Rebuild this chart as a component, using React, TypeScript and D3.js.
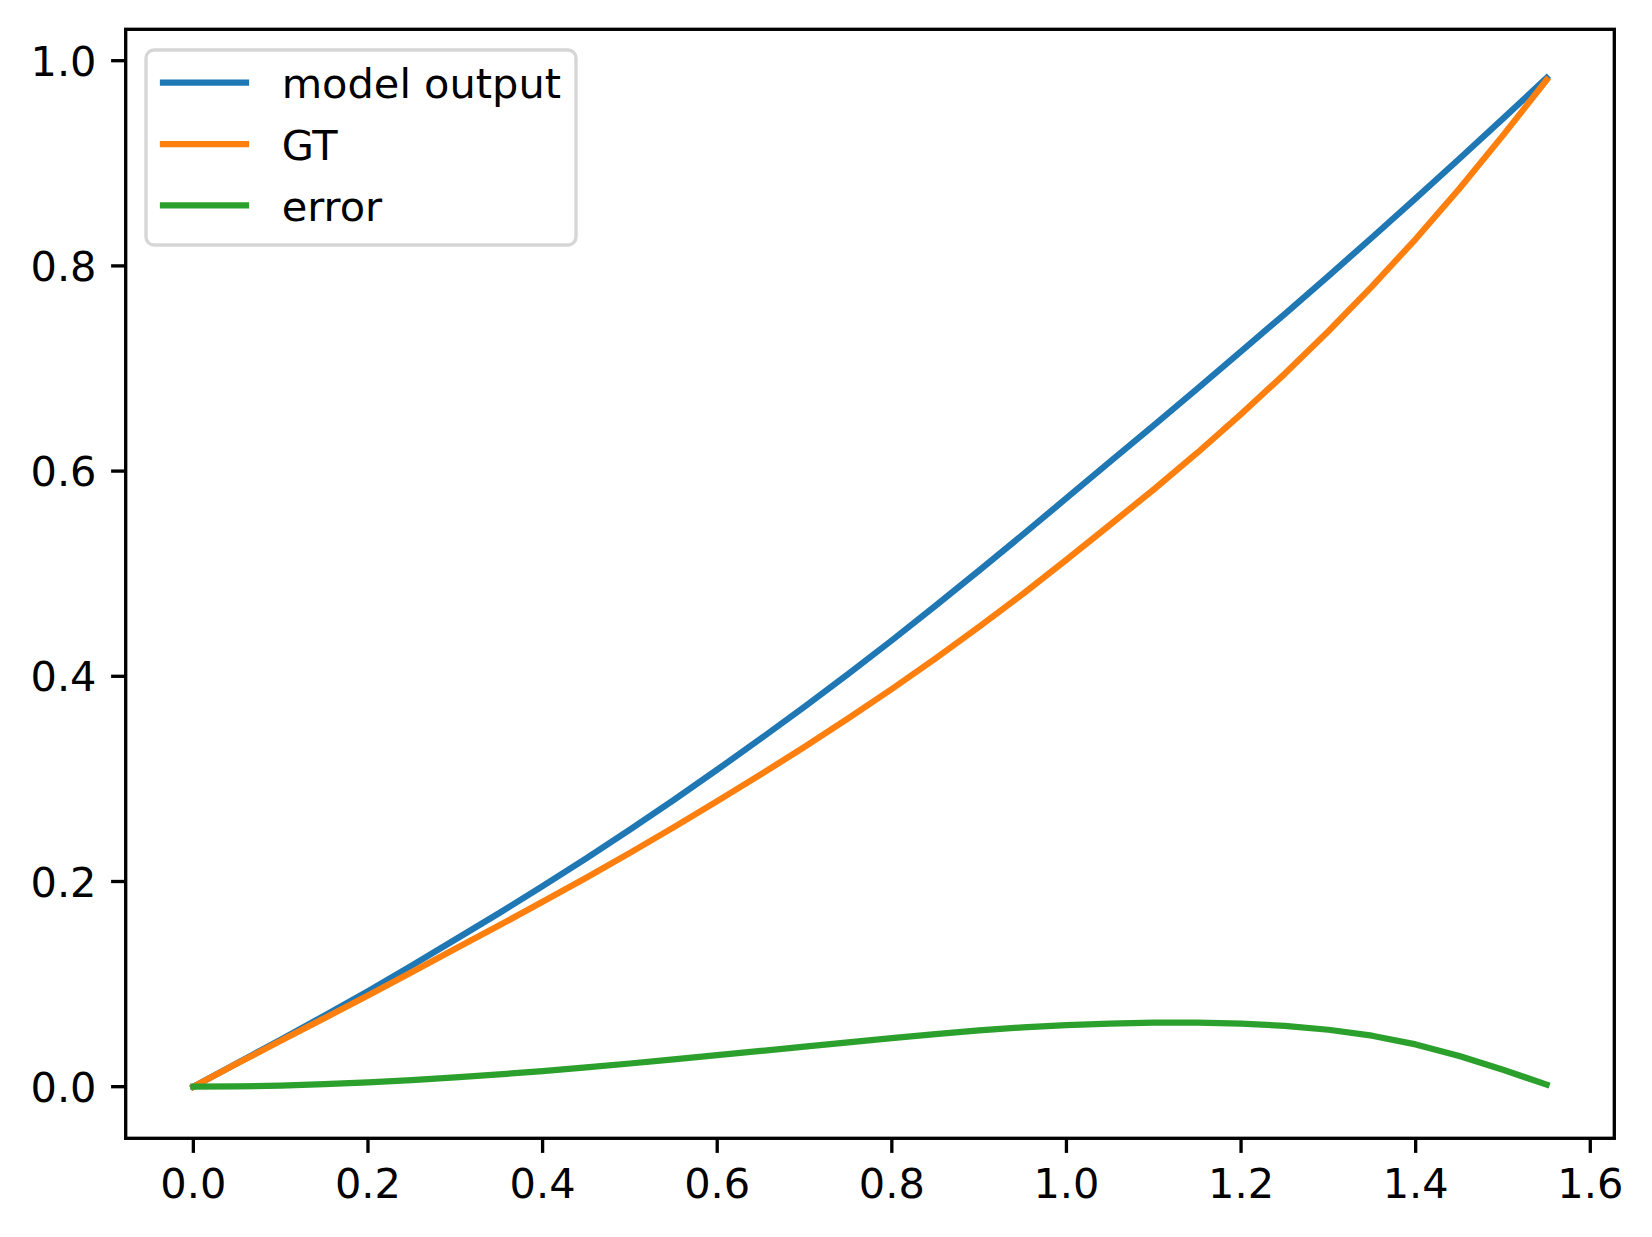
import React from "react";
import * as d3 from "d3";

const xValues = [0, 0.05, 0.1, 0.15, 0.2, 0.25, 0.3, 0.35, 0.4, 0.45, 0.5, 0.55, 0.6, 0.65, 0.7, 0.75, 0.8, 0.85, 0.9, 0.95, 1.0, 1.05, 1.1, 1.15, 1.2, 1.25, 1.3, 1.35, 1.4, 1.45, 1.5, 1.55];
const modelOutput = [0, 0.0228, 0.0458, 0.0692, 0.093, 0.118, 0.1435, 0.169, 0.1955, 0.2225, 0.2505, 0.2793, 0.309, 0.3393, 0.3703, 0.4022, 0.435, 0.4687, 0.5031, 0.538, 0.5736, 0.6092, 0.6446, 0.6803, 0.7166, 0.7531, 0.7901, 0.8277, 0.8658, 0.9044, 0.9435, 0.9832];
const groundTruth = [0, 0.0225, 0.0447, 0.0668, 0.0888, 0.1116, 0.1345, 0.157, 0.1803, 0.2037, 0.2279, 0.2527, 0.2783, 0.3044, 0.3312, 0.3589, 0.3876, 0.4174, 0.4483, 0.4802, 0.5136, 0.5477, 0.5821, 0.6179, 0.6555, 0.6948, 0.7363, 0.78, 0.8262, 0.8752, 0.9272, 0.9812];
const errorValues = [0, 0.0003, 0.0011, 0.0024, 0.0042, 0.0064, 0.009, 0.012, 0.0152, 0.0188, 0.0226, 0.0266, 0.0307, 0.0349, 0.0391, 0.0433, 0.0474, 0.0513, 0.0548, 0.0578, 0.06, 0.0615, 0.0625, 0.0624, 0.0615, 0.0593, 0.0555, 0.0497, 0.0412, 0.03, 0.0165, 0.002];
const xTicks = [0, 0.2, 0.4, 0.6, 0.8, 1.0, 1.2, 1.4, 1.6];
const yTicks = [0, 0.2, 0.4, 0.6, 0.8, 1.0];
const seriesNames = ["model output", "GT", "error"];
const seriesColors = ["#1f77b4", "#ff7f0e", "#2ca02c"];

const W = 1652;
const H = 1237;
const L = 125.7, R = 1614.3, T = 29.3, B = 1138.3;
const FONT = "DejaVu Sans, sans-serif";
const FS = 41.5;
const TICK = 14.6;
const PAD = 14.6;

export default function App() {
  const x = d3.scaleLinear().domain([-0.0775, 1.6275]).range([L, R]);
  const y = d3.scaleLinear().domain([-0.0503, 1.0306]).range([B, T]);
  const series = [modelOutput, groundTruth, errorValues];
  const line = d3
    .line<number>()
    .x((_, i) => x(xValues[i]))
    .y((d) => y(d));

  const legX = 146, legY = 50, legW = 430, legH = 195;
  const legLineY = [82.7, 144, 205.3];

  return (
    <svg width={W} height={H} style={{ position: "absolute", left: 0, top: 0, background: "#fff" }} fontFamily={FONT}>
      <rect x={0} y={0} width={W} height={H} fill="#fff" />
      <defs>
        <clipPath id="plotclip">
          <rect x={L} y={T} width={R - L} height={B - T} />
        </clipPath>
      </defs>
      <g clipPath="url(#plotclip)">
        {series.map((s, i) => (
          <path
            key={i}
            d={line(s) || ""}
            fill="none"
            stroke={seriesColors[i]}
            strokeWidth={6.25}
            strokeLinecap="square"
            strokeLinejoin="round"
          />
        ))}
      </g>
      <rect x={L} y={T} width={R - L} height={B - T} fill="none" stroke="#000" strokeWidth={3.33} strokeLinejoin="miter" />
      {xTicks.map((t) => (
        <g key={"x" + t}>
          <line x1={x(t)} x2={x(t)} y1={B} y2={B + TICK} stroke="#000" strokeWidth={3.33} />
          <text x={x(t)} y={1198.3} fontSize={FS} textAnchor="middle" fill="#000">
            {t.toFixed(1)}
          </text>
        </g>
      ))}
      {yTicks.map((t) => (
        <g key={"y" + t}>
          <line x1={L - TICK} x2={L} y1={y(t)} y2={y(t)} stroke="#000" strokeWidth={3.33} />
          <text x={L - TICK - PAD} y={y(t) + 15.2} fontSize={FS} textAnchor="end" fill="#000">
            {t.toFixed(1)}
          </text>
        </g>
      ))}
      <rect x={legX} y={legY} width={legW} height={legH} rx={8} ry={8} fill="#fff" fillOpacity={0.8} stroke="#d6d6d6" strokeWidth={3.33} />
      {seriesNames.map((n, i) => (
        <g key={n}>
          <line x1={163} x2={246} y1={legLineY[i]} y2={legLineY[i]} stroke={seriesColors[i]} strokeWidth={6.25} strokeLinecap="square" />
          <text x={281.7} y={legLineY[i] + 15.5} fontSize={FS} fill="#000">
            {n}
          </text>
        </g>
      ))}
    </svg>
  );
}
